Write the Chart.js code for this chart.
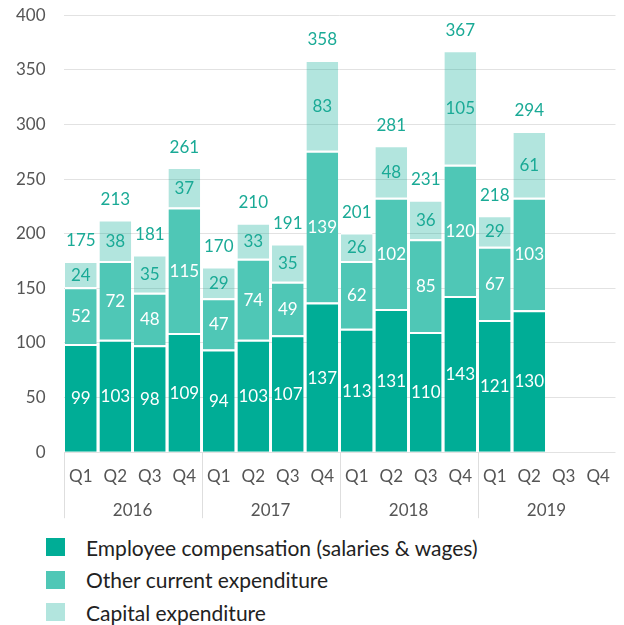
<!DOCTYPE html>
<html>
<head>
<meta charset="utf-8">
<script src="https://cdn.jsdelivr.net/npm/chart.js@4"></script>
<style>
  body { margin: 0; background: #fff; font-family: Lato, sans-serif; }
  #wrap { position: relative; width: 624px; height: 625px; }
  #chart { position: absolute; left: 0; top: 0; }
  #legend { position: absolute; left: 46px; top: 531px; }
  .item { height: 32.5px; display: flex; align-items: center; font-size: 21px; color: #222; }
  .box { width: 19px; height: 18px; margin-right: 21px; }
</style>
</head>
<body>
<div id="wrap">
  <canvas id="chart" width="624" height="530"></canvas>
  <div id="legend"></div>
</div>
<script>
const quarters = ['Q1', 'Q2', 'Q3', 'Q4', 'Q1', 'Q2', 'Q3', 'Q4', 'Q1', 'Q2', 'Q3', 'Q4', 'Q1', 'Q2', 'Q3', 'Q4'];
const years = ['2016', '2017', '2018', '2019'];
const employeeComp = [99, 103, 98, 109, 94, 103, 107, 137, 113, 131, 110, 143, 121, 130, null, null];
const otherCurrent = [52, 72, 48, 115, 47, 74, 49, 139, 62, 102, 85, 120, 67, 103, null, null];
const capitalExp = [24, 38, 35, 37, 29, 33, 35, 83, 26, 48, 36, 105, 29, 61, null, null];
const totals = [175, 213, 181, 261, 170, 210, 191, 358, 201, 281, 231, 367, 218, 294, null, null];

const teal = '#1aaa96';
const tickFont = { family: 'Lato', size: 17 };

// numbers inside the segments + totals on top
const labelPlugin = {
  id: 'labels',
  afterDatasetsDraw(chart) {
    const ctx = chart.ctx;
    ctx.save();
    ctx.font = '17px Lato';
    ctx.textAlign = 'center';
    ctx.textBaseline = 'middle';
    chart.data.datasets.forEach((ds, i) => {
      const meta = chart.getDatasetMeta(i);
      meta.data.forEach((bar, j) => {
        const v = ds.data[j];
        if (v == null) return;
        const p = bar.getProps(['x', 'y', 'base'], true);
        ctx.fillStyle = i === 2 ? teal : '#fff';
        ctx.fillText(String(v), p.x, (p.y + p.base) / 2 + 1);
        if (i === 2 && totals[j] != null) {
          ctx.fillStyle = teal;
          ctx.fillText(String(totals[j]), p.x, p.y - 20);
        }
      });
    });
    ctx.restore();
  }
};

// year separators under the axis
const yearLines = {
  id: 'yearLines',
  afterDraw(chart) {
    const x = chart.scales.x;
    const ctx = chart.ctx;
    const half = (x.getPixelForValue(1) - x.getPixelForValue(0)) / 2;
    ctx.save();
    ctx.strokeStyle = '#dedede';
    ctx.lineWidth = 1;
    for (let k = 0; k < years.length; k++) {
      const px = Math.round(x.getPixelForValue(k * 4) - half) + 0.5;
      ctx.beginPath();
      ctx.moveTo(px, chart.chartArea.bottom);
      ctx.lineTo(px, chart.chartArea.bottom + 66);
      ctx.stroke();
    }
    ctx.restore();
  }
};

const barOpts = {
  borderColor: '#fff',
  borderWidth: { top: 2, right: 0, bottom: 0, left: 0 },
  borderSkipped: false,
  barPercentage: 0.92,
  categoryPercentage: 1
};

const chart = new Chart(document.getElementById('chart'), {
  type: 'bar',
  data: {
    labels: quarters,
    datasets: [
      { label: 'Employee compensation (salaries & wages)', data: employeeComp, backgroundColor: '#00ad96', ...barOpts },
      { label: 'Other current expenditure', data: otherCurrent, backgroundColor: '#4fc7b6', ...barOpts },
      { label: 'Capital expenditure', data: capitalExp, backgroundColor: 'rgba(0,170,145,0.3)', ...barOpts }
    ]
  },
  options: {
    responsive: false,
    animation: false,
    layout: { padding: { left: 11, right: 1, top: 2, bottom: 9 } },
    plugins: {
      legend: { display: false },
      tooltip: { enabled: false }
    },
    scales: {
      x: {
        stacked: true,
        grid: { display: false, drawTicks: false },
        border: { display: false },
        ticks: { font: tickFont, color: '#555', padding: 14, maxRotation: 0 }
      },
      x2: {
        type: 'category',
        labels: years,
        position: 'bottom',
        offset: true,
        grid: { display: false, drawTicks: false },
        border: { display: false },
        ticks: { font: tickFont, color: '#555', padding: 0, maxRotation: 0 }
      },
      y: {
        stacked: true,
        min: 0,
        max: 400,
        ticks: { stepSize: 50, font: tickFont, color: '#555', padding: 5 },
        grid: { color: '#e2e2e2', drawTicks: true, tickLength: 13, tickColor: 'transparent' },
        border: { display: false }
      }
    }
  },
  plugins: [labelPlugin, yearLines]
});

const legend = document.getElementById('legend');
chart.data.datasets.forEach(ds => {
  const row = document.createElement('div');
  row.className = 'item';
  const box = document.createElement('span');
  box.className = 'box';
  box.style.background = ds.backgroundColor;
  row.appendChild(box);
  row.appendChild(document.createTextNode(ds.label));
  legend.appendChild(row);
});
</script>
</body>
</html>
